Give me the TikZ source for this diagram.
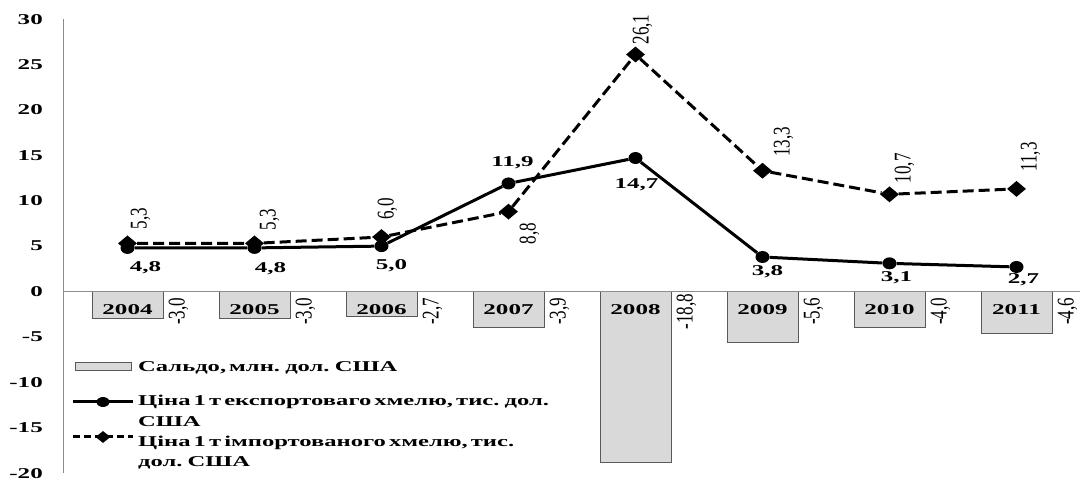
\documentclass[tikz,border=0pt]{standalone}
\usepackage{fontspec}
\setmainfont{Liberation Serif}
\newfontfamily\wideserif[FakeStretch=1.67]{Liberation Serif}
\newfontfamily\legserif[FakeStretch=1.64, WordSpace=0.5]{Liberation Serif}
\newfontfamily\tallserif[FakeStretch=0.71]{Liberation Serif}
\usetikzlibrary{shapes.geometric}
\definecolor{barfill}{HTML}{D9D9D9}
\definecolor{bardraw}{HTML}{595959}
\definecolor{axisgray}{HTML}{8C8C8C}

\begin{document}
\begin{tikzpicture}[x=127pt, y=9.08pt]
\tikzstyle{every node}=[inner sep=0pt]
\tikzstyle{bar}=[fill=barfill, draw=bardraw, line width=0.8pt]
\tikzstyle{axis}=[draw=axisgray, line width=1pt]
\tikzstyle{boldtext}=[font=\wideserif\bfseries\fontsize{15}{17}\selectfont]
\tikzstyle{tick}=[boldtext, anchor=east, xshift=-21pt]
\tikzstyle{year}=[boldtext, yshift=-18.5pt]
\tikzstyle{vlab}=[font=\tallserif\fontsize{24}{24}\selectfont, rotate=90]
\tikzstyle{sval}=[xshift=51pt, yshift=-20pt, vlab]
\tikzstyle{emark}=[ellipse, fill=black, minimum width=14pt, minimum height=12pt]
\tikzstyle{imark}=[diamond, fill=black, minimum width=19pt, minimum height=16pt]
\tikzstyle{expline}=[line width=3pt]
\tikzstyle{impline}=[line width=3pt, dash pattern=on 11pt off 5pt]
\tikzstyle{legtext}=[font=\legserif\bfseries\fontsize{15}{20.5}\selectfont, anchor=west, align=left]
\useasboundingbox (-64pt,291.5pt) rectangle (1018pt,-192.5pt);

% bars: saldo
\draw[bar] (0.22,0) rectangle (0.78,-3.0);
\draw[bar] (1.22,0) rectangle (1.78,-3.0);
\draw[bar] (2.22,0) rectangle (2.78,-2.7);
\draw[bar] (3.22,0) rectangle (3.78,-3.9);
\draw[bar] (4.22,0) rectangle (4.78,-18.8);
\draw[bar] (5.22,0) rectangle (5.78,-5.6);
\draw[bar] (6.22,0) rectangle (6.78,-4.0);
\draw[bar] (7.22,0) rectangle (7.78,-4.6);

% axes
\draw[axis] (0,-20) -- (0,30);
\draw[axis] (0,0) -- (8,0);

\node[tick] (t30) at (0,30) {30};
\node[tick] (t25) at (0,25) {25};
\node[tick] (t20) at (0,20) {20};
\node[tick] (t15) at (0,15) {15};
\node[tick] (t10) at (0,10) {10};
\node[tick] (t5) at (0,5) {5};
\node[tick] (t0) at (0,0) {0};
\node[tick] (tm5) at (0,-5) {-5};
\node[tick] (tm10) at (0,-10) {-10};
\node[tick] (tm15) at (0,-15) {-15};
\node[tick] (tm20) at (0,-20) {-20};

% years and saldo values
\node[year] (y2004) at (0.5,0) {2004};
\node[year] (y2005) at (1.5,0) {2005};
\node[year] (y2006) at (2.5,0) {2006};
\node[year] (y2007) at (3.5,0) {2007};
\node[year] (y2008) at (4.5,0) {2008};
\node[year] (y2009) at (5.5,0) {2009};
\node[year] (y2010) at (6.5,0) {2010};
\node[year] (y2011) at (7.5,0) {2011};
\node[sval] (s2004) at (0.5,0) {-3,0};
\node[sval] (s2005) at (1.5,0) {-3,0};
\node[sval] (s2006) at (2.5,0) {-2,7};
\node[sval] (s2007) at (3.5,0) {-3,9};
\node[sval] (s2008) at (4.5,0) {-18,8};
\node[sval] (s2009) at (5.5,0) {-5,6};
\node[sval] (s2010) at (6.5,0) {-4,0};
\node[sval] (s2011) at (7.5,0) {-4,6};

% import price
\node[imark] (i1) at (0.5,5.3) {};
\node[imark] (i2) at (1.5,5.3) {};
\node[imark] (i3) at (2.5,6.0) {};
\node[imark] (i4) at (3.5,8.8) {};
\node[imark] (i5) at (4.5,26.1) {};
\node[imark] (i6) at (5.5,13.3) {};
\node[imark] (i7) at (6.5,10.7) {};
\node[imark] (i8) at (7.5,11.3) {};
\draw[impline] (i1) -- (i2) -- (i3) -- (i4) -- (i5) -- (i6) -- (i7) -- (i8);
\node[xshift=13pt, yshift=25pt, vlab] (li1) at (i1) {5,3};
\node[xshift=15pt, yshift=24pt, vlab] (li2) at (i2) {5,3};
\node[xshift=6pt, yshift=28pt, vlab] (li3) at (i3) {6,0};
\node[xshift=21pt, yshift=-22pt, vlab] (li4) at (i4) {8,8};
\node[xshift=7pt, yshift=25pt, vlab] (li5) at (i5) {26,1};
\node[xshift=21pt, yshift=29pt, vlab] (li6) at (i6) {13,3};
\node[xshift=15pt, yshift=26pt, vlab] (li7) at (i7) {10,7};
\node[xshift=14pt, yshift=32pt, vlab] (li8) at (i8) {11,3};

% export price
\node[emark] (e1) at (0.5,4.8) {};
\node[emark] (e2) at (1.5,4.8) {};
\node[emark] (e3) at (2.5,5.0) {};
\node[emark] (e4) at (3.5,11.9) {};
\node[emark] (e5) at (4.5,14.7) {};
\node[emark] (e6) at (5.5,3.8) {};
\node[emark] (e7) at (6.5,3.1) {};
\node[emark] (e8) at (7.5,2.7) {};
\draw[expline] (e1) -- (e2) -- (e3) -- (e4) -- (e5) -- (e6) -- (e7) -- (e8);
\node[boldtext, xshift=18pt, yshift=-20pt] (le1) at (e1) {4,8};
\node[boldtext, xshift=16pt, yshift=-21pt] (le2) at (e2) {4,8};
\node[boldtext, xshift=10pt, yshift=-20pt] (le3) at (e3) {5,0};
\node[boldtext, xshift=4pt, yshift=21pt] (le4) at (e4) {11,9};
\node[boldtext, xshift=1pt, yshift=-27pt] (le5) at (e5) {14,7};
\node[boldtext, xshift=5pt, yshift=-15pt] (le6) at (e6) {3,8};
\node[boldtext, xshift=7pt, yshift=-14pt] (le7) at (e7) {3,1};
\node[boldtext, xshift=7pt, yshift=-13pt] (le8) at (e8) {2,7};

% legend
\draw[bar] (11pt,-70.5pt) rectangle (67pt,-78.5pt);
\node[legtext] (g1) at (74pt,-76pt) {Сальдо, млн. дол. США};
\coordinate (g2a) at (9pt,-110.5pt);
\coordinate (g2b) at (69pt,-110.5pt);
\draw[expline] (g2a) -- (g2b);
\node[emark, minimum width=13pt, minimum height=10pt] (g2m) at (39pt,-110.5pt) {};
\node[legtext] (g2) at (74pt,-119.5pt) {Ціна 1 т експортоваго хмелю, тис. дол.\\США};
\coordinate (g3a) at (9pt,-145.5pt);
\coordinate (g3b) at (69pt,-145.5pt);
\draw[line width=3pt, dash pattern=on 7pt off 4pt] (g3a) -- (g3b);
\node[imark, minimum width=15pt, minimum height=12pt] (g3m) at (39pt,-145.5pt) {};
\node[legtext] (g3) at (74pt,-161pt) {Ціна 1 т імпортованого хмелю, тис.\\дол. США};
\end{tikzpicture}
\end{document}
